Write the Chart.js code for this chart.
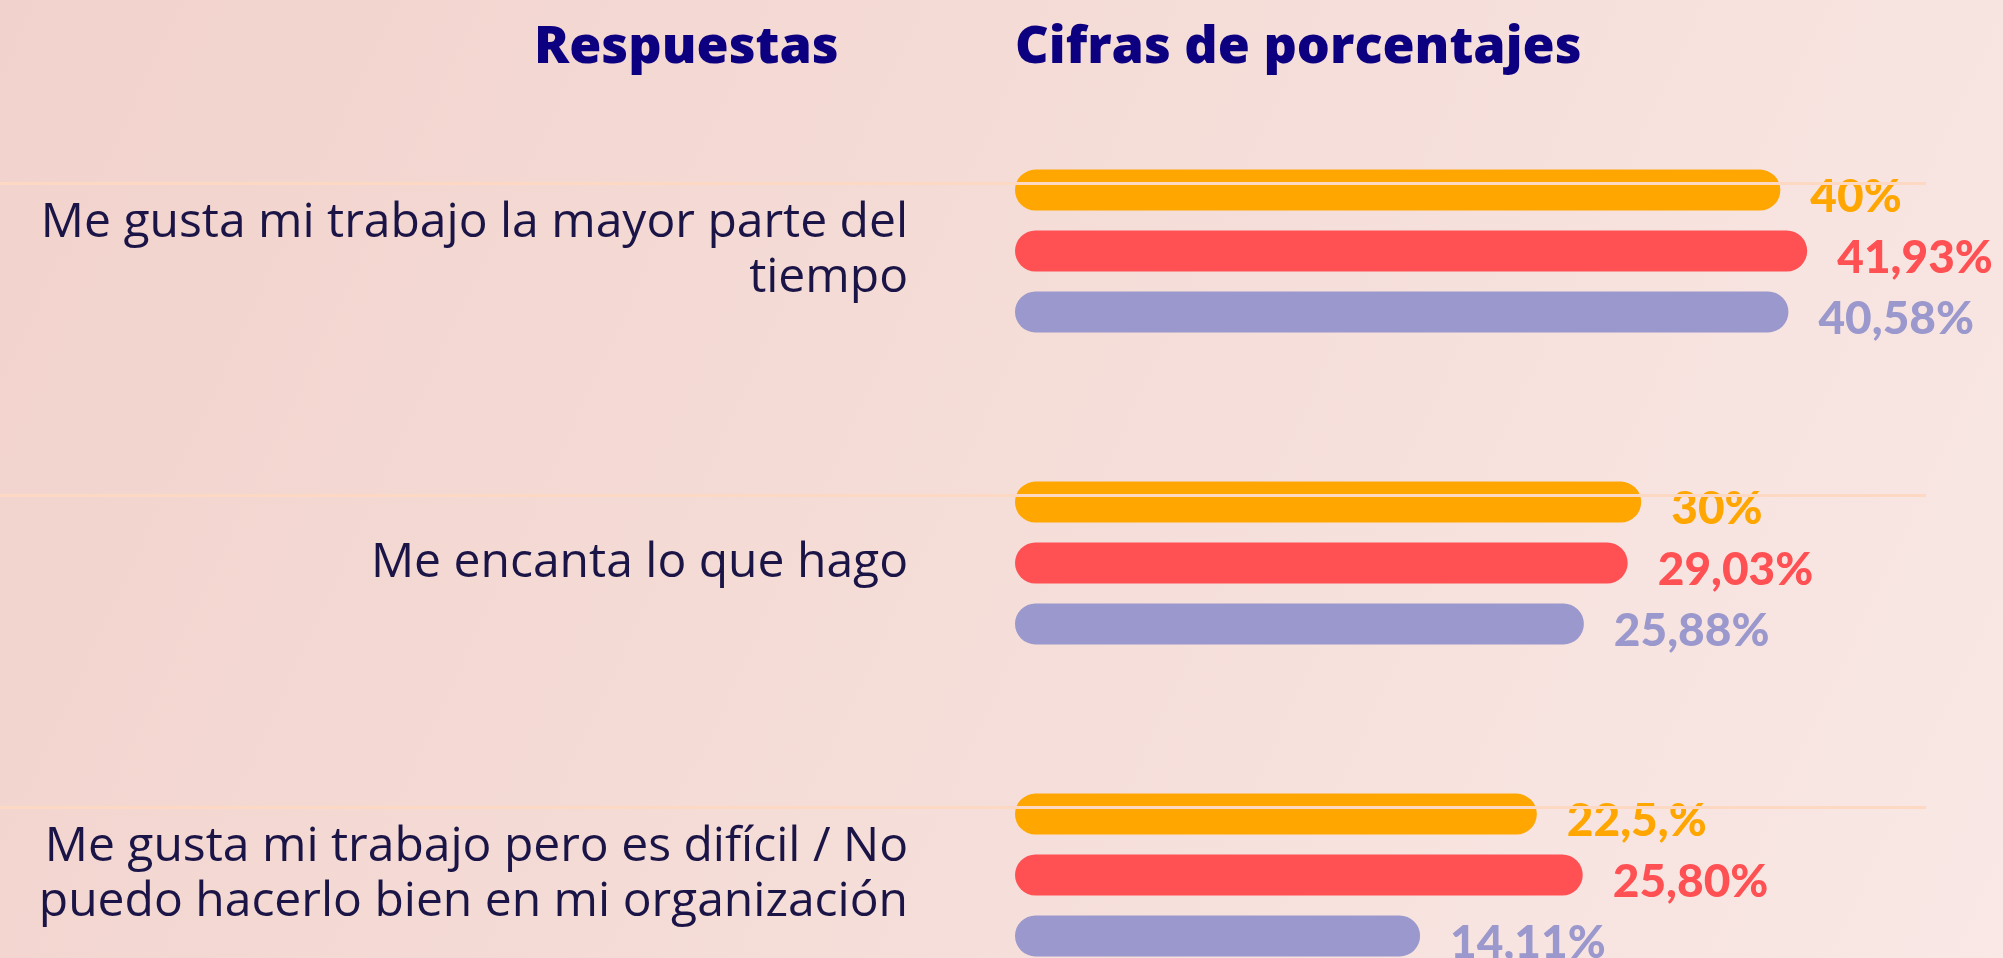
<!DOCTYPE html>
<html lang="es">
<head>
<meta charset="utf-8">
<title>Respuestas - Cifras de porcentajes</title>
<script src="https://cdn.jsdelivr.net/npm/chart.js@4.4.1/dist/chart.umd.min.js"></script>
<style>
  html, body { margin: 0; padding: 0; width: 2003px; height: 958px; overflow: hidden; }
  body { background: linear-gradient(115deg, #f2d2cc 0%, #f5ddd8 50%, #f9e8e5 100%); }
  canvas { display: block; }
</style>
</head>
<body>
<canvas id="myChart" width="2003" height="958"></canvas>
<script>
// datos
const categorias = [
  ['Me gusta mi trabajo la mayor parte del', 'tiempo'],
  'Me encanta lo que hago',
  ['Me gusta mi trabajo pero es difícil / No', 'puedo hacerlo bien en mi organización']
];
const serieNaranja = [40, 30, 22.5];
const serieRoja = [41.93, 29.03, 25.80];
const serieMorada = [40.58, 25.88, 14.11];
const etiquetasNaranja = ['40%', '30%', '22,5,%'];
const etiquetasRoja = ['41,93%', '29,03%', '25,80%'];
const etiquetasMorada = ['40,58%', '25,88%', '14,11%'];
const cabeceras = ['Respuestas', 'Cifras de porcentajes'];

const X_MIN = -15;
const X_MAX = 56;

const etiquetas = [etiquetasNaranja, etiquetasRoja, etiquetasMorada];

const decor = {
  id: 'decor',
  beforeDraw(chart) {
    const ctx = chart.ctx;
    ctx.save();
    ctx.font = '800 52px "Open Sans", sans-serif';
    ctx.fillStyle = '#0d0080';
    ctx.textBaseline = 'alphabetic';
    ctx.textAlign = 'left';
    ctx.fillText(cabeceras[0], 534, 63);
    ctx.fillText(cabeceras[1], chart.chartArea.left, 63);
    ctx.restore();
  },
  afterDatasetsDraw(chart) {
    const ctx = chart.ctx;
    ctx.save();
    ctx.font = '900 46px Lato, sans-serif';
    ctx.textAlign = 'left';
    ctx.textBaseline = 'alphabetic';
    chart.data.datasets.forEach((ds, i) => {
      chart.getDatasetMeta(i).data.forEach((bar, j) => {
        ctx.fillStyle = ds.backgroundColor;
        ctx.fillText(etiquetas[i][j], bar.x + 30, bar.y + 22);
      });
    });
    // lineas finas decorativas
    const y = chart.scales.y;
    ctx.strokeStyle = '#fdd8c2';
    ctx.lineWidth = 3;
    categorias.forEach((c, i) => {
      const py = Math.round(y.getPixelForValue(i)) - 67.5;
      ctx.beginPath();
      ctx.moveTo(0, py);
      ctx.lineTo(chart.chartArea.right - 77, py);
      ctx.stroke();
    });
    ctx.restore();
  }
};

const barra = {
  borderRadius: 30,
  borderSkipped: false,
  base: X_MIN,
  clip: false,
  categoryPercentage: 0.586,
  barPercentage: 0.672
};

const ctx = document.getElementById('myChart').getContext('2d');
new Chart(ctx, {
  type: 'bar',
  data: {
    labels: categorias,
    datasets: [
      { ...barra, label: 'Naranja', data: serieNaranja, backgroundColor: '#ffa600' },
      { ...barra, label: 'Roja', data: serieRoja, backgroundColor: '#ff5053' },
      { ...barra, label: 'Morada', data: serieMorada, backgroundColor: '#9a98cc' }
    ]
  },
  plugins: [decor],
  options: {
    indexAxis: 'y',
    responsive: false,
    animation: false,
    layout: { padding: { top: 251, bottom: 83, left: 0, right: 0 } },
    plugins: {
      legend: { display: false },
      tooltip: { enabled: false }
    },
    scales: {
      x: { display: false, min: X_MIN, max: X_MAX },
      y: {
        offset: false,
        grid: { display: false, drawTicks: false },
        border: { display: false },
        ticks: {
          color: '#1b1547',
          font: { family: '"Open Sans", sans-serif', size: 48, lineHeight: 1.15 },
          padding: 107
        },
        afterFit(scale) {
          scale.width = 1015;
          scale.paddingTop = 0;
          scale.paddingBottom = 0;
        }
      }
    }
  }
});
</script>
</body>
</html>
